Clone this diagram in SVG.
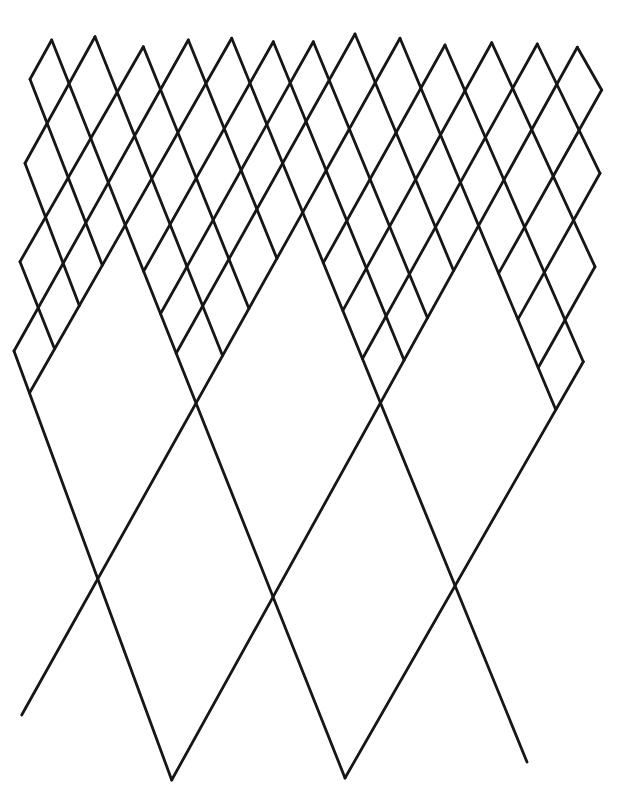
<svg xmlns="http://www.w3.org/2000/svg" width="618" height="810" viewBox="0 0 618 810">
<style>
line{stroke:#161616;stroke-width:2.8;stroke-linecap:round;fill:none}
</style>
<rect width="618" height="810" fill="#ffffff"/>
<g id="mesh-descending">
<line x1="30" y1="79.3" x2="102.3" y2="265.2"/>
<line x1="25" y1="163.3" x2="79.3" y2="305.6"/>
<line x1="20" y1="261.7" x2="54.6" y2="349"/>
<line x1="14" y1="351" x2="171.7" y2="780"/>
<line x1="51.7" y1="40" x2="345" y2="778"/>
<line x1="95" y1="36.7" x2="222.6" y2="355.7"/>
<line x1="143.3" y1="46.7" x2="248.9" y2="308.6"/>
<line x1="188.3" y1="40" x2="276.9" y2="258.5"/>
<line x1="231.7" y1="38.3" x2="527" y2="762"/>
<line x1="273.3" y1="41.7" x2="404.1" y2="360.2"/>
<line x1="313.3" y1="41.7" x2="427.5" y2="318"/>
<line x1="355" y1="34" x2="453.6" y2="270.7"/>
<line x1="400" y1="38.3" x2="555.8" y2="409.7"/>
<line x1="445" y1="45" x2="583.3" y2="361.7"/>
<line x1="491.7" y1="42.7" x2="595" y2="266.7"/>
<line x1="537.3" y1="44" x2="600" y2="173.3"/>
<line x1="577.3" y1="47.3" x2="601.7" y2="90"/>
</g>
<g id="mesh-ascending">
<line x1="30" y1="79.3" x2="51.7" y2="40"/>
<line x1="25" y1="163.3" x2="95" y2="36.7"/>
<line x1="20" y1="261.7" x2="143.3" y2="46.7"/>
<line x1="14" y1="351" x2="188.3" y2="40"/>
<line x1="29.5" y1="393" x2="231.7" y2="38.3"/>
<line x1="143.6" y1="271.3" x2="273.3" y2="41.7"/>
<line x1="160.5" y1="313.7" x2="313.3" y2="41.7"/>
<line x1="176.2" y1="353.2" x2="355" y2="34"/>
<line x1="21.7" y1="715" x2="400" y2="38.3"/>
<line x1="323.3" y1="262.8" x2="445" y2="45"/>
<line x1="342.8" y1="310.6" x2="491.7" y2="42.7"/>
<line x1="362.4" y1="358.7" x2="537.3" y2="44"/>
<line x1="171.7" y1="780" x2="577.3" y2="47.3"/>
<line x1="498.6" y1="273.4" x2="601.7" y2="90"/>
<line x1="517.9" y1="319.4" x2="600" y2="173.3"/>
<line x1="538.2" y1="367.8" x2="595" y2="266.7"/>
<line x1="345" y1="778" x2="583.3" y2="361.7"/>
</g>
</svg>
